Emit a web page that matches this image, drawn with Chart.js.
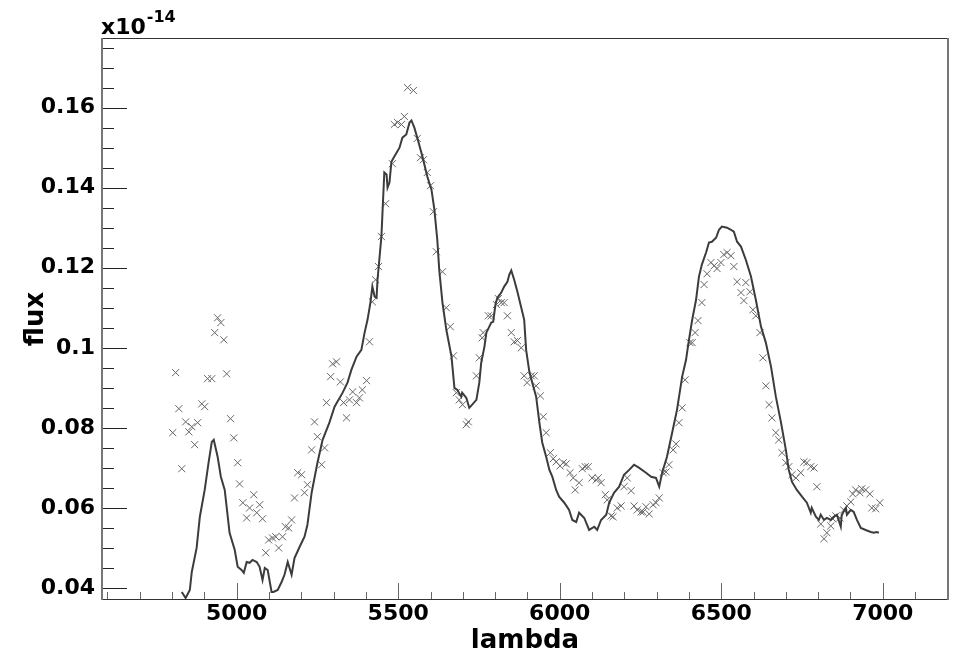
<!DOCTYPE html>
<html>
<head>
<meta charset="utf-8">
<title>flux vs lambda</title>
<script src="https://cdn.jsdelivr.net/npm/chart.js@4.4.1/dist/chart.umd.min.js"></script>
<style>
  html, body { margin: 0; padding: 0; background: #fff; }
  #espectro { display: block; }
</style>
</head>
<body>
<canvas id="espectro" width="955" height="657"></canvas>
<script>
'use strict';

// espectro modelo (linea continua)
const lineLambda = [
  4830, 4842, 4855, 4861, 4876, 4886, 4901, 4913, 4923, 4929,
  4941, 4951, 4963, 4978, 4994, 5003, 5015, 5022, 5031, 5040,
  5049, 5062, 5071, 5080, 5087, 5096, 5108, 5114, 5127, 5139,
  5148, 5158, 5170, 5179, 5195, 5210, 5219, 5232, 5250, 5266,
  5287, 5303, 5328, 5343, 5355, 5371, 5386, 5396, 5405, 5414,
  5420, 5427, 5433, 5436, 5448, 5457, 5464, 5467, 5473, 5479,
  5488, 5504, 5513, 5525, 5535, 5541, 5550, 5559, 5575, 5590,
  5603, 5612, 5621, 5627, 5637, 5649, 5665, 5674, 5683, 5695,
  5698, 5711, 5720, 5729, 5742, 5751, 5757, 5767, 5773, 5782,
  5788, 5794, 5801, 5807, 5819, 5828, 5838, 5844, 5850, 5859,
  5869, 5881, 5890, 5896, 5906, 5915, 5927, 5937, 5946, 5958,
  5968, 5977, 5989, 5998, 6014, 6029, 6039, 6051, 6060, 6076,
  6091, 6107, 6116, 6128, 6144, 6153, 6168, 6184, 6199, 6215,
  6230, 6246, 6267, 6283, 6298, 6308, 6317, 6332, 6348, 6363,
  6379, 6391, 6400, 6410, 6422, 6431, 6440, 6453, 6462, 6471,
  6484, 6493, 6502, 6518, 6530, 6539, 6549, 6561, 6576, 6592,
  6607, 6623, 6638, 6654, 6669, 6685, 6700, 6709, 6719, 6734,
  6750, 6765, 6777, 6780, 6793, 6802, 6808, 6818, 6827, 6839,
  6848, 6858, 6870, 6873, 6886, 6889, 6901, 6910, 6920, 6932,
  6947, 6963, 6972, 6981, 6988
];
const lineFlux = [
  0.039, 0.0375, 0.0395, 0.044, 0.05, 0.0578, 0.0645, 0.0713, 0.0765, 0.077,
  0.0728, 0.0678, 0.0645, 0.0538, 0.0495, 0.0453, 0.0445, 0.0438, 0.0465, 0.0463,
  0.047, 0.0465, 0.0453, 0.042, 0.045, 0.0445, 0.039, 0.039, 0.0395, 0.0415,
  0.0433, 0.0465, 0.0433, 0.0475, 0.0503, 0.0528, 0.0558, 0.0638, 0.0713, 0.077,
  0.0813, 0.0853, 0.0888, 0.0913, 0.0945, 0.0978, 0.0995, 0.1038, 0.107, 0.1113,
  0.1153, 0.1128, 0.1125, 0.117, 0.1278, 0.1438, 0.1433, 0.14, 0.1413, 0.1465,
  0.1478, 0.15, 0.1525, 0.1533, 0.1563, 0.1568, 0.155, 0.1525, 0.1478, 0.1428,
  0.1395, 0.1345, 0.127, 0.1195, 0.1113, 0.1045, 0.0978, 0.09, 0.0895, 0.0878,
  0.0888, 0.0875, 0.085, 0.0858, 0.087, 0.0913, 0.0963, 0.1003, 0.1038, 0.1053,
  0.1063, 0.1065, 0.1108, 0.1125, 0.1138, 0.1153, 0.1165, 0.1183, 0.1193, 0.117,
  0.114, 0.11, 0.107, 0.0995, 0.094, 0.0913, 0.0878, 0.0813, 0.0763, 0.0728,
  0.0695, 0.0678, 0.0645, 0.0628, 0.0613, 0.0595, 0.057, 0.0565, 0.0588, 0.0575,
  0.0545, 0.0553, 0.0545, 0.057, 0.0583, 0.0613, 0.0638, 0.0653, 0.0683, 0.0695,
  0.0708, 0.07, 0.0688, 0.0678, 0.0675, 0.0653, 0.0688, 0.0728, 0.0788, 0.0845,
  0.0928, 0.097, 0.102, 0.107, 0.112, 0.1178, 0.1208, 0.1238, 0.1263, 0.1265,
  0.1275, 0.1295, 0.1303, 0.13, 0.1295, 0.129, 0.1265, 0.1253, 0.122, 0.1178,
  0.112, 0.1053, 0.1013, 0.0953, 0.0878, 0.0813, 0.0745, 0.0695, 0.0665, 0.0645,
  0.0628, 0.0613, 0.0588, 0.06, 0.0578, 0.057, 0.0583, 0.057, 0.0575, 0.057,
  0.0578, 0.0583, 0.0553, 0.0583, 0.06, 0.0583, 0.0595, 0.059, 0.057, 0.055,
  0.0545, 0.054, 0.0538, 0.054, 0.0538
];

// observaciones (cruces)
const obsLambda = [
  4802, 4811, 4821, 4830, 4842, 4852, 4861, 4870, 4879, 4892,
  4901, 4910, 4923, 4932, 4941, 4951, 4960, 4969, 4981, 4991,
  5003, 5009, 5019, 5031, 5040, 5053, 5062, 5071, 5080, 5090,
  5099, 5111, 5121, 5130, 5142, 5151, 5161, 5170, 5179, 5189,
  5201, 5210, 5219, 5232, 5241, 5250, 5263, 5272, 5278, 5291,
  5297, 5309, 5321, 5331, 5340, 5349, 5359, 5371, 5380, 5389,
  5402, 5411, 5420, 5430, 5439, 5448, 5461, 5482, 5488, 5498,
  5510, 5519, 5529, 5547, 5559, 5569, 5578, 5590, 5600, 5609,
  5618, 5637, 5649, 5661, 5671, 5680, 5689, 5699, 5711, 5717,
  5742, 5751, 5760, 5763, 5779, 5788, 5804, 5810, 5819, 5828,
  5838, 5850, 5859, 5869, 5881, 5890, 5899, 5912, 5921, 5927,
  5940, 5949, 5958, 5971, 5980, 5989, 6001, 6011, 6020, 6032,
  6042, 6048, 6060, 6070, 6079, 6088, 6100, 6113, 6119, 6128,
  6141, 6147, 6159, 6165, 6178, 6190, 6199, 6209, 6221, 6230,
  6240, 6252, 6258, 6267, 6277, 6289, 6298, 6308, 6320, 6329,
  6338, 6351, 6360, 6369, 6379, 6388, 6403, 6410, 6419, 6428,
  6440, 6447, 6456, 6468, 6478, 6487, 6499, 6508, 6518, 6530,
  6539, 6549, 6561, 6570, 6576, 6589, 6598, 6607, 6620, 6629,
  6638, 6648, 6657, 6669, 6678, 6688, 6700, 6709, 6719, 6731,
  6746, 6756, 6765, 6777, 6787, 6796, 6808, 6818, 6827, 6839,
  6845, 6855, 6867, 6879, 6889, 6901, 6907, 6916, 6929, 6935,
  6947, 6960, 6966, 6978, 6991
];
const obsFlux = [
  0.0788, 0.0938, 0.0848, 0.0698, 0.0815, 0.079, 0.0803, 0.0758, 0.0813, 0.086,
  0.0853, 0.0923, 0.0923, 0.1038, 0.1075, 0.1063, 0.102, 0.0935, 0.0823, 0.0775,
  0.0713, 0.066, 0.0613, 0.0575, 0.06, 0.0633, 0.0588, 0.0608, 0.0573, 0.0488,
  0.052, 0.0525, 0.0528, 0.05, 0.0528, 0.0553, 0.055, 0.057, 0.0625, 0.0688,
  0.0683, 0.0638, 0.0658, 0.0745, 0.0815, 0.0778, 0.0708, 0.075, 0.0863, 0.0928,
  0.096, 0.0965, 0.0915, 0.0863, 0.0825, 0.087, 0.089, 0.0863, 0.0875, 0.0895,
  0.0918, 0.1015, 0.1115, 0.117, 0.1203, 0.1278, 0.136, 0.146, 0.1558, 0.1563,
  0.1558, 0.1578, 0.165, 0.1643, 0.1523, 0.1475, 0.147, 0.1438, 0.1405, 0.134,
  0.124, 0.119, 0.11, 0.1053, 0.098, 0.0888, 0.087, 0.0858, 0.0808, 0.0815,
  0.093, 0.0975, 0.1025, 0.1038, 0.108, 0.108, 0.1108, 0.1123, 0.1113, 0.1113,
  0.108, 0.1038, 0.1015, 0.1018, 0.1, 0.093, 0.0913, 0.093, 0.093, 0.0905,
  0.088, 0.0828, 0.0788, 0.0738, 0.0723, 0.0715, 0.0705, 0.0713, 0.071, 0.0688,
  0.0675, 0.0645, 0.0663, 0.0698, 0.0703, 0.0703, 0.0675, 0.067, 0.0675, 0.0663,
  0.0633, 0.062, 0.058, 0.0578, 0.06, 0.0605, 0.0653, 0.0675, 0.0643, 0.0605,
  0.0595, 0.059, 0.059, 0.0603, 0.0585, 0.0608, 0.0613, 0.0625, 0.0688, 0.069,
  0.0708, 0.0745, 0.076, 0.0813, 0.085, 0.092, 0.1013, 0.1013, 0.1038, 0.1068,
  0.1113, 0.1158, 0.1185, 0.1213, 0.1205, 0.1198, 0.1213, 0.1233, 0.1238, 0.123,
  0.1203, 0.1165, 0.1138, 0.1118, 0.1163, 0.114, 0.1095, 0.108, 0.1038, 0.0975,
  0.0905, 0.0858, 0.0825, 0.0788, 0.077, 0.0738, 0.0713, 0.0703, 0.0683, 0.0675,
  0.0688, 0.0715, 0.0713, 0.0703, 0.07, 0.0653, 0.056, 0.0523, 0.0538, 0.0555,
  0.0573, 0.058, 0.0575, 0.0595, 0.0605, 0.0615, 0.0635, 0.0645, 0.0638, 0.0648,
  0.0645, 0.0635, 0.06, 0.0598, 0.0613
];

// ejes
const xRange = [4580, 7205];
const yRange = [0.037, 0.1774];
const xMajorTicks = [5000, 5500, 6000, 6500, 7000];
const xTickLabels = ['5000', '5500', '6000', '6500', '7000'];
const yMajorTicks = [0.04, 0.06, 0.08, 0.1, 0.12, 0.14, 0.16];
const yTickLabels = ['0.04', '0.06', '0.08', '0.1', '0.12', '0.14', '0.16'];
const exponentLabel = ['x10', '-14'];

const FONT = '"DejaVu Sans", sans-serif';

// marco, marcas hacia dentro y el factor x10^-14
const rootFrame = {
    id: 'rootFrame',
    afterDatasetsDraw(chart) {
        const { ctx, chartArea: a, scales: { x, y } } = chart;
        const seg = (x0, y0, x1, y1) => {
            ctx.beginPath();
            ctx.moveTo(x0, y0);
            ctx.lineTo(x1, y1);
            ctx.stroke();
        };
        ctx.save();

        // marcas eje x (principales cada 500, secundarias cada 100)
        ctx.strokeStyle = '#666';
        ctx.lineWidth = 1;
        for (let v = 4600; v <= 7200; v += 100) {
            const px = Math.round(x.getPixelForValue(v)) + 0.5;
            const len = xMajorTicks.includes(v) ? 17 : 8;
            seg(px, a.bottom, px, a.bottom - len);
        }

        // marcas eje y (principales cada 0.02, secundarias cada 0.005)
        ctx.strokeStyle = '#222';
        for (let k = 8; k <= 35; k++) {
            const py = Math.round(y.getPixelForValue(k * 0.005)) + 0.5;
            const len = k % 4 === 0 ? 26 : 13;
            seg(a.left, py, a.left + len, py);
        }

        // marco
        ctx.strokeStyle = '#333';
        ctx.lineWidth = 1;
        seg(a.left, Math.round(a.top) + 0.5, a.right, Math.round(a.top) + 0.5);
        seg(a.left, Math.round(a.bottom) - 0.5, a.right, Math.round(a.bottom) - 0.5);
        ctx.strokeStyle = '#777';
        ctx.lineWidth = 2;
        seg(a.left + 1, a.top, a.left + 1, a.bottom);
        seg(a.right - 1, a.top, a.right - 1, a.bottom);

        // factor de escala
        ctx.fillStyle = '#000';
        ctx.textBaseline = 'alphabetic';
        ctx.textAlign = 'left';
        ctx.font = 'bold 22px ' + FONT;
        ctx.fillText(exponentLabel[0], a.left, 34);
        const w = ctx.measureText(exponentLabel[0]).width;
        ctx.font = 'bold 16px ' + FONT;
        ctx.fillText(exponentLabel[1], a.left + w + 1, 22);

        ctx.restore();
    }
};

const initChart = (id) => {
    const canvas = document.getElementById(id);
    if (!canvas) return;

    const existing = Chart.getChart(canvas);
    if (existing) existing.destroy();

    const tickFont = { family: FONT, weight: 'bold', size: 22 };
    const titleFont = { family: FONT, weight: 'bold', size: 26 };

    new Chart(canvas.getContext('2d'), {
        type: 'scatter',
        data: {
            datasets: [{
                type: 'line',
                data: lineLambda.map((l, i) => ({ x: l, y: lineFlux[i] })),
                borderColor: '#3c3c3c',
                borderWidth: 2,
                pointRadius: 0,
                tension: 0,
                fill: false,
                order: 1
            }, {
                data: obsLambda.map((l, i) => ({ x: l, y: obsFlux[i] })),
                pointStyle: 'crossRot',
                pointRadius: 5,
                borderColor: '#666',
                borderWidth: 1,
                backgroundColor: 'rgba(0,0,0,0)',
                order: 2
            }]
        },
        options: {
            responsive: false,
            animation: false,
            events: [],
            layout: { padding: { top: 38, right: 5, left: 0, bottom: 0 } },
            plugins: {
                legend: { display: false },
                tooltip: { enabled: false }
            },
            scales: {
                x: {
                    type: 'linear',
                    min: xRange[0],
                    max: xRange[1],
                    afterBuildTicks: s => { s.ticks = xMajorTicks.map(v => ({ value: v })); },
                    afterFit: s => { s.height = 57; },
                    grid: { display: false, drawTicks: false },
                    border: { display: false },
                    ticks: {
                        autoSkip: false,
                        maxRotation: 0,
                        padding: 1,
                        color: '#000',
                        font: tickFont,
                        callback: v => xTickLabels[xMajorTicks.indexOf(v)]
                    },
                    title: {
                        display: true,
                        text: 'lambda',
                        color: '#000',
                        font: titleFont,
                        padding: { top: 0, bottom: 0 }
                    }
                },
                y: {
                    type: 'linear',
                    min: yRange[0],
                    max: yRange[1],
                    afterBuildTicks: s => { s.ticks = yMajorTicks.map(v => ({ value: v })); },
                    afterFit: s => { s.width = 101; },
                    grid: { display: false, drawTicks: false },
                    border: { display: false },
                    ticks: {
                        padding: 6,
                        color: '#000',
                        font: tickFont,
                        callback: v => yTickLabels[yMajorTicks.indexOf(v)]
                    },
                    title: {
                        display: true,
                        text: 'flux',
                        color: '#000',
                        font: titleFont,
                        padding: { top: 21, bottom: 0 }
                    }
                }
            }
        },
        plugins: [rootFrame]
    });
};

initChart('espectro');
</script>
</body>
</html>
